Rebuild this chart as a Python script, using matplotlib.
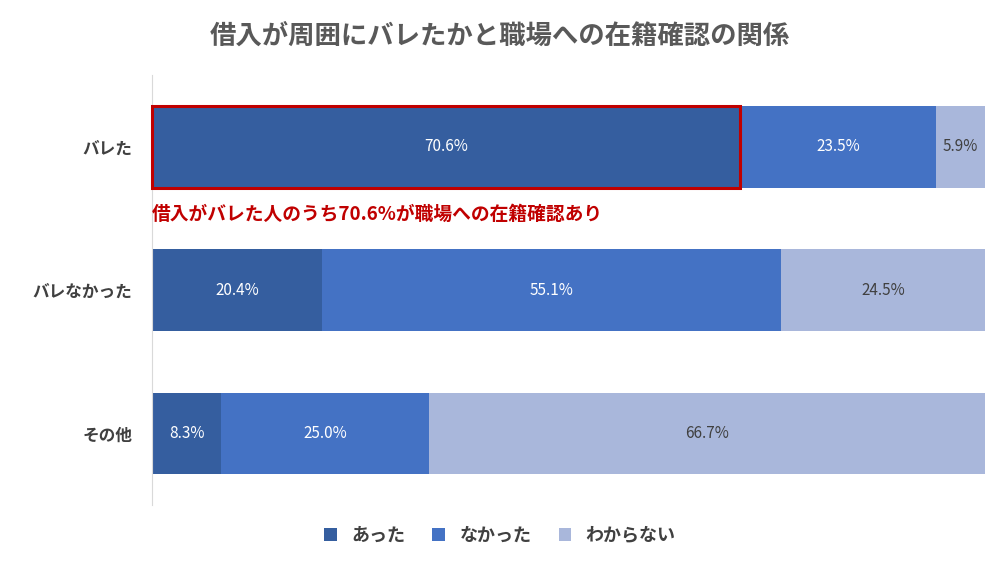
import matplotlib
matplotlib.use("Agg")
import matplotlib.pyplot as plt
from matplotlib.patches import Rectangle

plt.rcParams["font.family"] = "Noto Sans CJK JP"

categories = ["バレた", "バレなかった", "その他"]
series_names = ["あった", "なかった", "わからない"]
values = {
    "あった": [70.6, 20.4, 8.3],
    "なかった": [23.5, 55.1, 25.0],
    "わからない": [5.9, 24.5, 66.7],
}
colors = ["#355E9F", "#4472C4", "#A9B7DB"]
text_colors = ["white", "white", "#404040"]

fig = plt.figure(figsize=(10, 5.62), dpi=100)
ax = fig.add_axes([0.152, 0.1014, 0.833, 0.765])
left = [0.0] * len(categories)
for s, c, tc in zip(series_names, colors, text_colors):
    v = values[s]
    ax.barh(range(len(categories)), v, left=left, height=0.57, color=c, label=s)
    for i, (l, w) in enumerate(zip(left, v)):
        ax.text(l + w / 2, i, f"{w:.1f}%", ha="center", va="center", color=tc, fontsize=11)
    left = [a + b for a, b in zip(left, v)]

ax.set_xlim(0, 100)
ax.set_ylim(2.5, -0.5)
ax.set_yticks(range(len(categories)))
ax.set_yticklabels(categories, fontsize=12, fontweight="bold", color="#404040")
ax.tick_params(axis="y", length=0, pad=14)
ax.set_xticks([])
for sp in ["top", "right", "bottom"]:
    ax.spines[sp].set_visible(False)
ax.spines["left"].set_color("#D9D9D9")

ax.add_patch(Rectangle((0, -0.285), values["あった"][0], 0.57, fill=False,
                       edgecolor="#C00000", linewidth=2.2, clip_on=False, zorder=5))
ax.text(0, 0.47, "借入がバレた人のうち70.6%が職場への在籍確認あり", color="#C00000",
        fontsize=13.5, fontweight="bold", ha="left", va="center")

fig.text(0.5, 0.935, "借入が周囲にバレたかと職場への在籍確認の関係", ha="center", va="center",
         fontsize=19, fontweight="bold", color="#595959")
fig.legend(loc="center", bbox_to_anchor=(0.5, 0.048), ncol=3, frameon=False,
           fontsize=13, handlelength=0.7, handleheight=0.7, columnspacing=1.5,
           labelcolor="#404040", prop={"weight": "bold", "size": 13})
fig.savefig("out.png", dpi=100)
